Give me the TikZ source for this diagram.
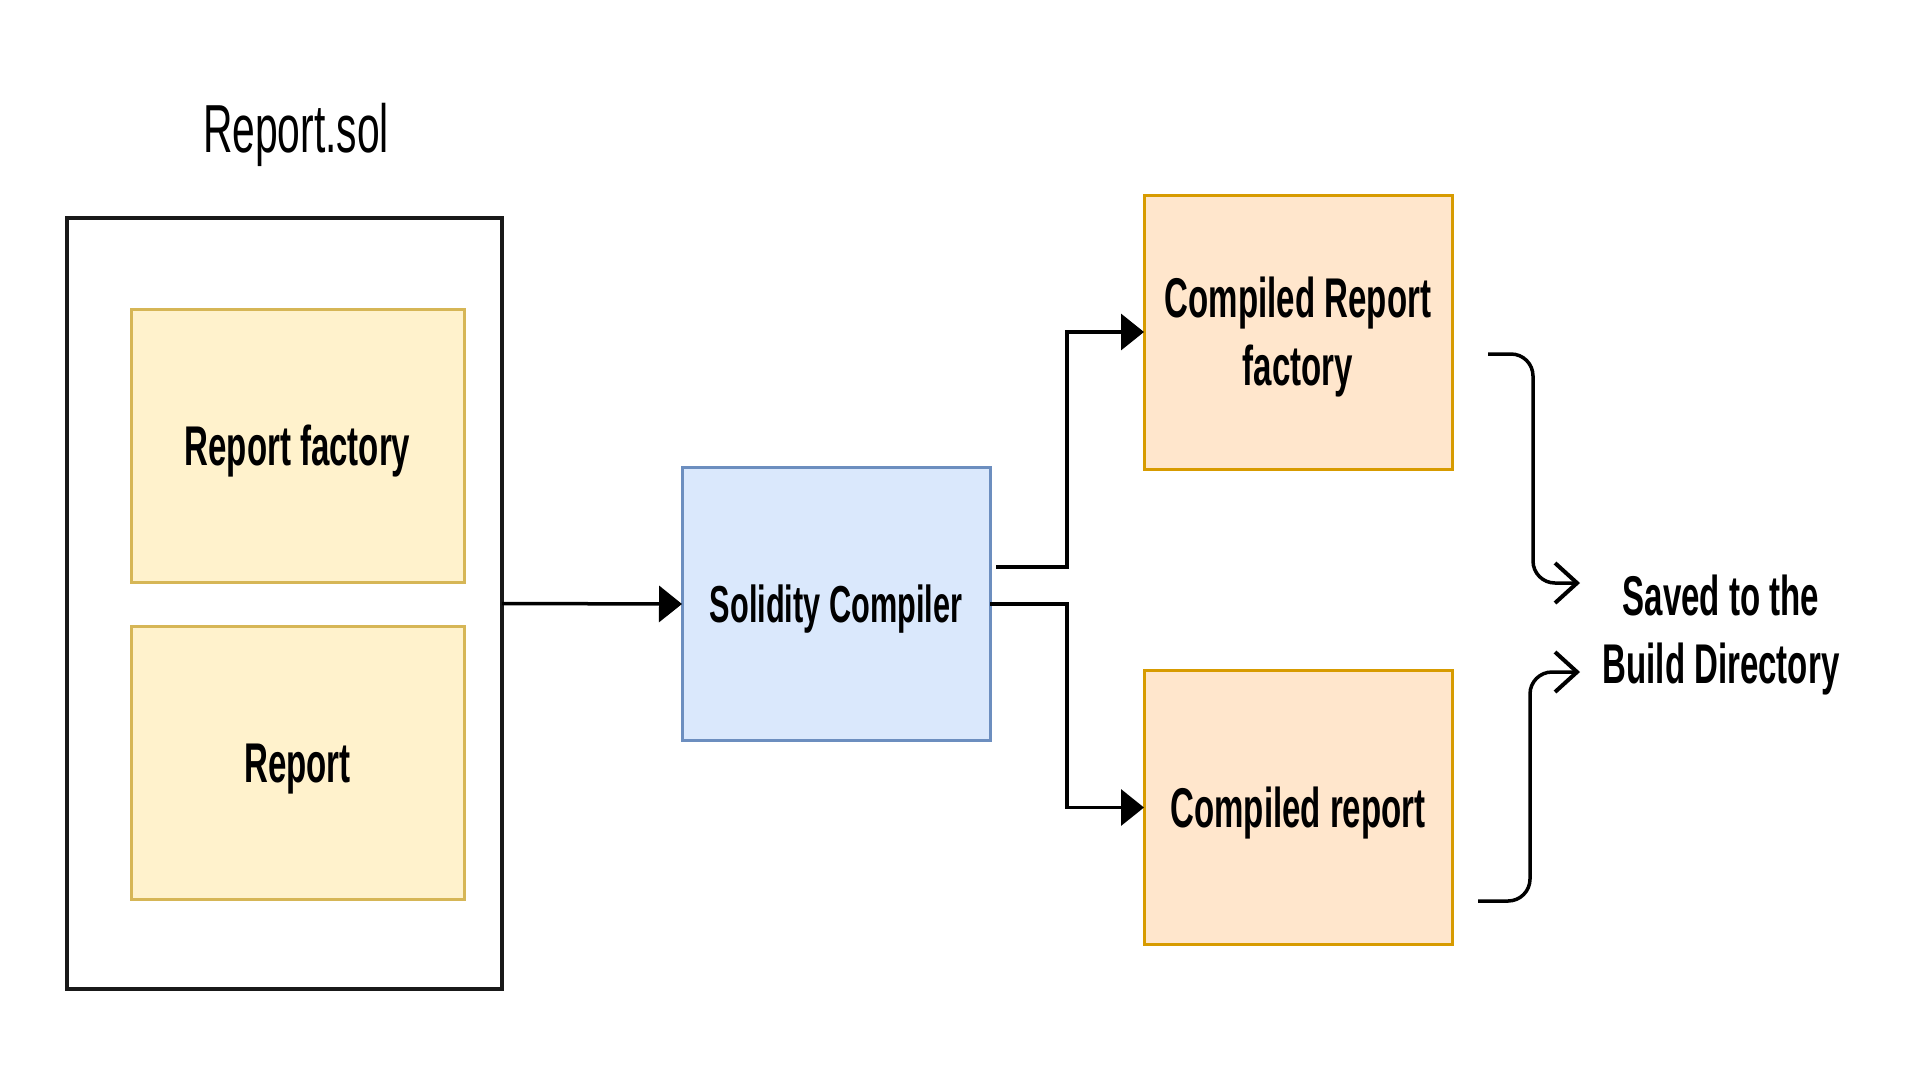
\documentclass[tikz,border=0pt]{standalone}
\usepackage{fontspec}
\usepackage{graphicx}
\setmainfont{Liberation Sans}
\usetikzlibrary{arrows.meta}
\definecolor{ylfill}{HTML}{FFF2CC}
\definecolor{ylline}{HTML}{D6B656}
\definecolor{orfill}{HTML}{FFE6CC}
\definecolor{orline}{HTML}{D79B00}
\definecolor{blfill}{HTML}{DAE8FC}
\definecolor{blline}{HTML}{6C8EBF}
\newcommand{\cond}[1]{\raisebox{-6pt}[\height][\depth]{\scalebox{0.59}[1]{\begin{tabular}{@{}c@{}}#1\end{tabular}}}}
\begin{document}
\begin{tikzpicture}[x=1pt,y=-1pt,
  boxfont/.style={font=\fontsize{56}{68}\selectfont\bfseries},
  basebox/.style={draw,line width=3pt,inner sep=0pt,outer sep=0pt,boxfont},
  ylbox/.style={basebox,draw=ylline,fill=ylfill,minimum width=333pt,minimum height=273pt},
  orbox/.style={basebox,draw=orline,fill=orfill,minimum width=308pt,minimum height=274pt},
  blbox/.style={basebox,draw=blline,fill=blfill,minimum width=308pt,minimum height=273pt,font=\fontsize{52}{62}\selectfont\bfseries},
  outerbox/.style={draw=black!90,line width=3.5pt,inner sep=0pt,outer sep=0pt,minimum width=435pt,minimum height=771pt},
  flow/.style={line width=3.5pt,-{Triangle[length=23pt,width=36pt]}},
  barb/.style={line width=3.5pt,rounded corners=22pt,-{Straight Barb[length=22pt,width=40pt,line width=4pt]}}
]
\useasboundingbox (0,0) rectangle (1920,1088);
\fill[white] (0,0) rectangle (1920,1088);

\node[anchor=base,inner sep=0pt,font=\fontsize{68}{80}\selectfont] (title) at (296,152) {\scalebox{0.6}[1]{Report.sol}};

\node[outerbox] (outer) at (284.5,603.5) {};
\node[ylbox] (rf) at (297.5,445.5) {\cond{Report factory}};
\node[ylbox] (rp) at (297.5,762.5) {\cond{Report}};

\node[blbox] (sc) at (836,604) {\cond{Solidity Compiler}};

\node[orbox] (crf) at (1298,332) {\cond{Compiled Report\\factory}};
\node[orbox] (cr) at (1298,807.5) {\cond{Compiled report}};

\node[boxfont,inner sep=0pt] (saved) at (1721,630) {\cond{Saved to the\\Build Directory}};

% connectors
\draw[flow] (outer.east) -- (sc.west);

\coordinate (s1) at (996,567);
\coordinate (j1) at (1067,332);
\coordinate (j2) at (1067,807.5);
\draw[flow] (s1) -| (j1) -- (crf.west);
\draw[flow] (sc.east) -| (j2) -- (cr.west);

\coordinate (c1s) at (1488,354);
\coordinate (c1m) at (1533,583);
\coordinate (c1e) at (1580,583);
\draw[barb] (c1s) -| (c1m) -- (c1e);

\coordinate (c2s) at (1478,901);
\coordinate (c2m) at (1530,672);
\coordinate (c2e) at (1580,672);
\draw[barb] (c2s) -| (c2m) -- (c2e);
\end{tikzpicture}
\end{document}
